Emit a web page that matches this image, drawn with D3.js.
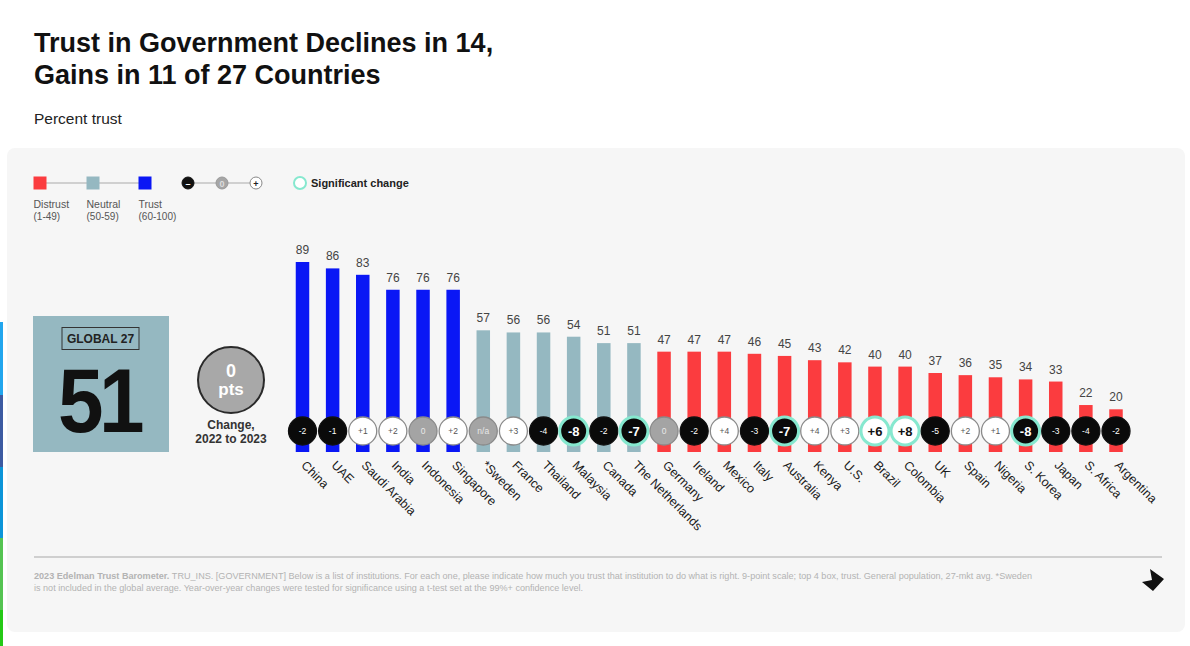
<!DOCTYPE html>
<html><head><meta charset="utf-8">
<script src="https://cdn.jsdelivr.net/npm/d3@7/dist/d3.min.js"></script>
<style>body{margin:0;background:#fff;}svg{display:block;font-family:"Liberation Sans",Arial,sans-serif;}</style>
</head><body>
<svg id="c" width="1190" height="646"></svg>
<script>
const countries = ["China","UAE","Saudi Arabia","India","Indonesia","Singapore","*Sweden","France","Thailand","Malaysia","Canada","The Netherlands","Germany","Ireland","Mexico","Italy","Australia","Kenya","U.S.","Brazil","Colombia","UK","Spain","Nigeria","S. Korea","Japan","S. Africa","Argentina"];
const trust = [89,86,83,76,76,76,57,56,56,54,51,51,47,47,47,46,45,43,42,40,40,37,36,35,34,33,22,20];
const change = ["-2","-1","+1","+2","0","+2","n/a","+3","-4","-8","-2","-7","0","-2","+4","-3","-7","+4","+3","+6","+8","-5","+2","+1","-8","-3","-4","-2"];
const significant = ["Malaysia","The Netherlands","Australia","Brazil","Colombia","S. Korea"];
const globalValue = 51;
const globalChange = "0";
const legendLevels = ["Distrust","Neutral","Trust"];
const legendRanges = ["(1-49)","(50-59)","(60-100)"];

const colTrust="#0a17f5", colNeutral="#95b8c1", colDistrust="#fb3c3f", sigCol="#86e8cf";
const levelColor = v => v>=60?colTrust:(v>=50?colNeutral:colDistrust);

const svg=d3.select("#c");
// side strip (page artifact)
[["#22a6ee",322,395],["#3d5ba2",395,467],["#0c95d9",467,538],["#55c452",538,610],["#24c916",610,646]].forEach(d=>{
  svg.append("rect").attr("x",0).attr("y",d[1]).attr("width",3).attr("height",d[2]-d[1]).attr("fill",d[0]);
});
// title
svg.append("text").attr("x",34).attr("y",52).attr("font-size",27).attr("font-weight","bold").attr("fill","#111").text("Trust in Government Declines in 14,");
svg.append("text").attr("x",34).attr("y",84).attr("font-size",27).attr("font-weight","bold").attr("fill","#111").text("Gains in 11 of 27 Countries");
svg.append("text").attr("x",34).attr("y",124).attr("font-size",15.5).attr("fill","#222").text("Percent trust");

// panel
svg.append("rect").attr("x",7).attr("y",148).attr("width",1178).attr("height",484).attr("rx",8).attr("fill","#f6f6f6");

// legend
const lg=svg.append("g");
const lx=[40,93,145];
lg.append("line").attr("x1",lx[0]).attr("x2",lx[2]).attr("y1",183).attr("y2",183).attr("stroke","#aaa").attr("stroke-width",1.2);
[colDistrust,colNeutral,colTrust].forEach((c,i)=>{
  lg.append("rect").attr("x",lx[i]-6.5).attr("y",176.5).attr("width",13).attr("height",13).attr("fill",c);
  lg.append("text").attr("x",lx[i]-6.5).attr("y",208).attr("font-size",10.5).attr("fill","#555").text(legendLevels[i]);
  lg.append("text").attr("x",lx[i]-6.5).attr("y",220).attr("font-size",10).attr("fill","#555").text(legendRanges[i]);
});
lg.append("line").attr("x1",188).attr("x2",256).attr("y1",183).attr("y2",183).attr("stroke","#aaa").attr("stroke-width",1.2);
[["#111","#111","–","#fff"],["#a6a6a6","#999","0","#ddd"],["#fff","#888","+","#222"]].forEach((d,i)=>{
  const cx=188+i*34;
  lg.append("circle").attr("cx",cx).attr("cy",183).attr("r",6).attr("fill",d[0]).attr("stroke",d[1]).attr("stroke-width",1);
  lg.append("text").attr("x",cx).attr("y",186.5).attr("text-anchor","middle").attr("font-size",9).attr("font-weight","bold").attr("fill",d[3]).text(d[2]);
});
lg.append("circle").attr("cx",300).attr("cy",183).attr("r",6).attr("fill","#fff").attr("stroke",sigCol).attr("stroke-width",2);
lg.append("text").attr("x",311).attr("y",187).attr("font-size",11).attr("font-weight","bold").attr("fill","#222").text("Significant change");

// global box
svg.append("rect").attr("x",33).attr("y",316).attr("width",136).attr("height",136).attr("fill",colNeutral);
svg.append("rect").attr("x",62).attr("y",327.5).attr("width",77).attr("height",22).attr("fill","none").attr("stroke","#333").attr("stroke-width",1);
svg.append("text").attr("x",100.5).attr("y",343).attr("text-anchor","middle").attr("font-size",12).attr("font-weight","bold").attr("fill","#222").text("GLOBAL 27");
svg.append("text").attr("transform","translate(99,432) scale(0.9,1)").attr("text-anchor","middle").attr("font-size",91).attr("font-weight","bold").attr("fill","#111").attr("letter-spacing",-5).text(globalValue);
svg.append("circle").attr("cx",231).attr("cy",380).attr("r",33).attr("fill","#a8a8a8").attr("stroke","#2a2a2a").attr("stroke-width",2);
svg.append("text").attr("x",231).attr("y",377).attr("text-anchor","middle").attr("font-size",18).attr("font-weight","bold").attr("fill","#fff").text(globalChange);
svg.append("text").attr("x",231).attr("y",395).attr("text-anchor","middle").attr("font-size",17).attr("font-weight","bold").attr("fill","#fff").text("pts");
svg.append("text").attr("x",231).attr("y",429).attr("text-anchor","middle").attr("font-size",12).attr("font-weight","bold").attr("fill","#333").text("Change,");
svg.append("text").attr("x",231).attr("y",443).attr("text-anchor","middle").attr("font-size",12).attr("font-weight","bold").attr("fill","#333").text("2022 to 2023");

// bars
const x=d3.scalePoint().domain(countries).range([302.5,1116]);
const y=d3.scaleLinear().domain([0,89]).range([452,262]);
const bw=13.5;
const data=countries.map((c,i)=>({c,v:trust[i],ch:change[i],sig:significant.includes(c)}));
const g=svg.append("g");
g.selectAll("rect.bar").data(data).join("rect").attr("class","bar")
  .attr("x",d=>x(d.c)-bw/2).attr("y",d=>y(d.v)).attr("width",bw).attr("height",d=>y(0)-y(d.v)).attr("fill",d=>levelColor(d.v));
g.selectAll("text.val").data(data).join("text").attr("class","val")
  .attr("x",d=>x(d.c)).attr("y",d=>y(d.v)-8).attr("text-anchor","middle").attr("font-size",12).attr("fill","#444").text(d=>d.v);

const cy=431, r=14;
const circ=g.selectAll("g.ch").data(data).join("g").attr("class","ch").attr("transform",d=>`translate(${x(d.c)},${cy})`);
circ.append("circle").attr("r",r)
  .attr("fill",d=>d.ch.startsWith("-")?"#0a0a0a":(d.ch.startsWith("+")?"#fff":"#a4a4a4"))
  .attr("stroke",d=>d.sig?sigCol:(d.ch.startsWith("-")?"#111":"#8a8a8a"))
  .attr("stroke-width",d=>d.sig?3:1.3);
circ.append("text").attr("y",d=>d.sig?4.5:3).attr("text-anchor","middle")
  .attr("font-size",d=>d.sig?13:8.5).attr("font-weight",d=>d.sig?"bold":"normal")
  .attr("fill",d=>d.ch.startsWith("-")?"#fff":(d.ch.startsWith("+")?(d.sig?"#111":"#555"):"#e8e8e8"))
  .text(d=>d.ch);

g.selectAll("text.lab").data(data).join("text").attr("class","lab")
  .attr("transform",d=>`translate(${x(d.c)-2},${466}) rotate(45)`)
  .attr("font-size",12.5).attr("fill","#1a1a1a").text(d=>d.c);

// footer
svg.append("line").attr("x1",34).attr("x2",1162).attr("y1",557).attr("y2",557).attr("stroke","#cfcfcf").attr("stroke-width",2);
const f1=svg.append("text").attr("x",34).attr("y",579).attr("font-size",8.6).attr("fill","#b3b3b3").attr("textLength",998).attr("lengthAdjust","spacingAndGlyphs");
f1.append("tspan").attr("font-weight","bold").text("2023 Edelman Trust Barometer. ");
f1.append("tspan").text("TRU_INS. [GOVERNMENT] Below is a list of institutions. For each one, please indicate how much you trust that institution to do what is right. 9-point scale; top 4 box, trust. General population, 27-mkt avg. *Sweden");
svg.append("text").attr("x",34).attr("y",591).attr("font-size",8.6).attr("fill","#b3b3b3").attr("textLength",549).attr("lengthAdjust","spacingAndGlyphs")
  .text("is not included in the global average. Year-over-year changes were tested for significance using a t-test set at the 99%+ confidence level.");
svg.append("path").attr("d","M1150,569 L1164,579 L1153,591 L1142,582 L1152,580 Z").attr("fill","#111");
</script>
</body></html>
